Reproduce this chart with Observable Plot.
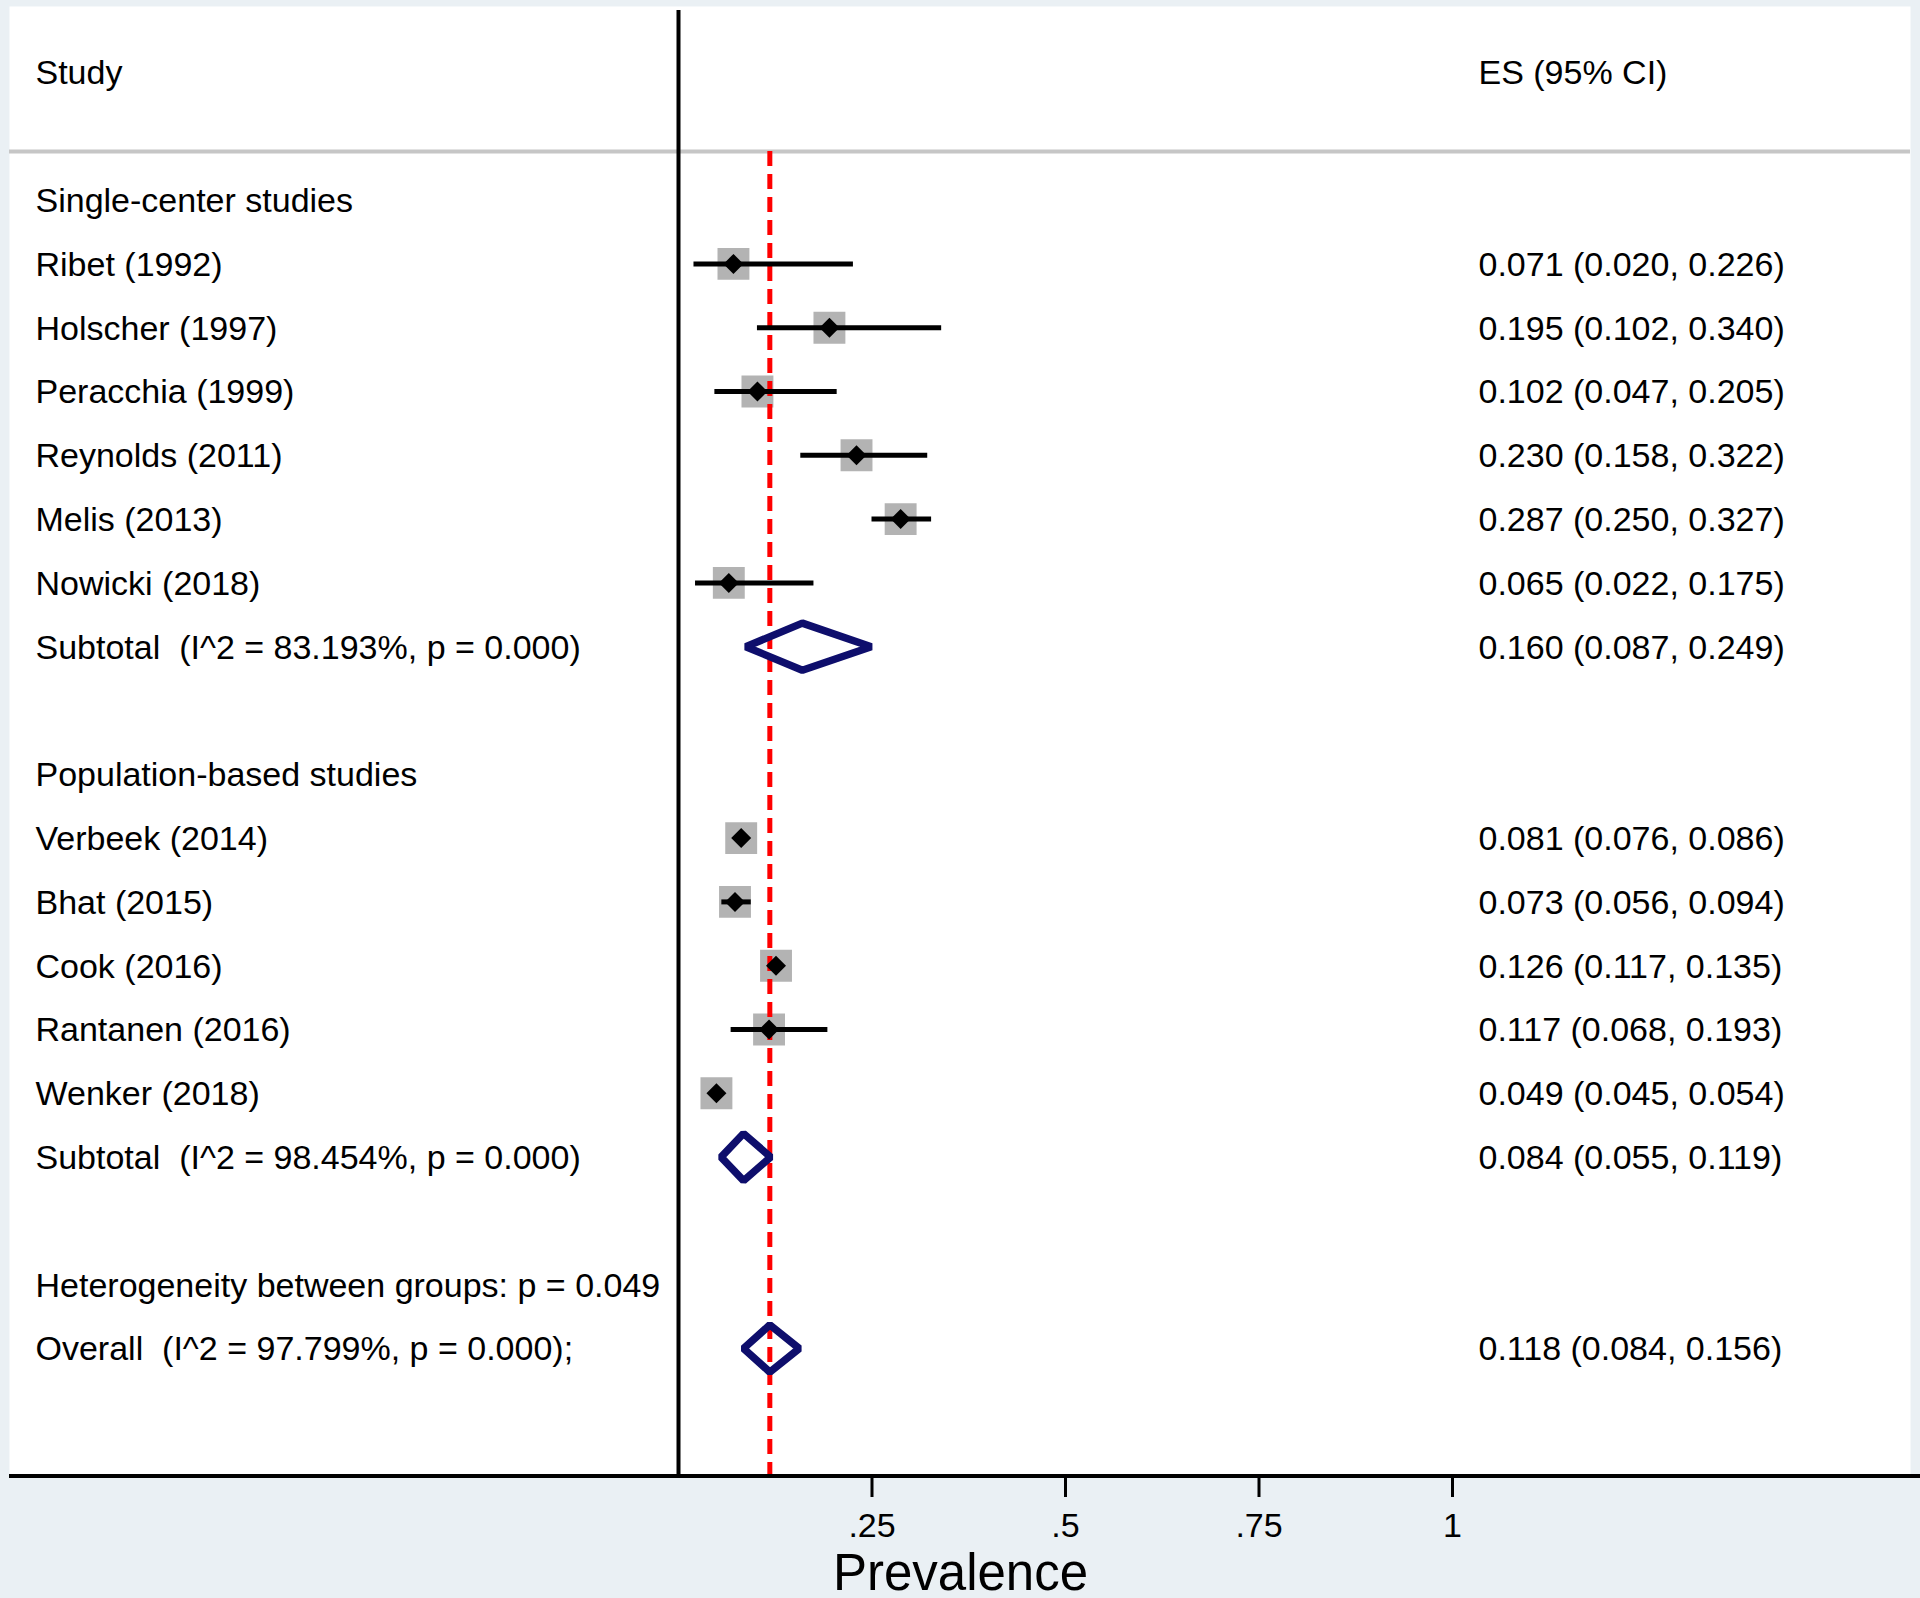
<!DOCTYPE html>
<html><head><meta charset="utf-8">
<script src="https://cdn.jsdelivr.net/npm/d3@7"></script>
<script src="https://cdn.jsdelivr.net/npm/@observablehq/plot@0.6"></script>
<style>body{margin:0;background:#eaf0f4;} svg{display:block;}</style>
</head><body><div id="chart"></div>
<script>
// ---- data ----
const groupNames = ["Single-center studies", "Population-based studies"];
const studyNames = ["Ribet (1992)", "Holscher (1997)", "Peracchia (1999)", "Reynolds (2011)", "Melis (2013)", "Nowicki (2018)",
                    "Verbeek (2014)", "Bhat (2015)", "Cook (2016)", "Rantanen (2016)", "Wenker (2018)"];
const studyGroup = [0, 0, 0, 0, 0, 0, 1, 1, 1, 1, 1];
const studyES = [0.071, 0.195, 0.102, 0.230, 0.287, 0.065, 0.081, 0.073, 0.126, 0.117, 0.049];
const studyLo = [0.020, 0.102, 0.047, 0.158, 0.250, 0.022, 0.076, 0.056, 0.117, 0.068, 0.045];
const studyHi = [0.226, 0.340, 0.205, 0.322, 0.327, 0.175, 0.086, 0.094, 0.135, 0.193, 0.054];
const subtotalES = [0.160, 0.084];
const subtotalLo = [0.087, 0.055];
const subtotalHi = [0.249, 0.119];
const subtotalI2 = ["83.193%", "98.454%"];
const subtotalP = ["0.000", "0.000"];
const heterogeneityP = "0.049";
const overallES = 0.118, overallLo = 0.084, overallHi = 0.156;
const overallI2 = "97.799%", overallP = "0.000";
const xTicks = [0.25, 0.5, 0.75, 1];
const xLabel = "Prevalence";
const headerStudy = "Study";
const headerES = "ES (95% CI)";

// ---- build table ----
const fmt = d3.format(".3f");
const esText = (e, l, h) => `${fmt(e)} (${fmt(l)}, ${fmt(h)})`;
const rows = [];
let r = 0;
groupNames.forEach((g, gi) => {
  rows.push({row: r++, label: g, type: "group"});
  studyNames.forEach((s, i) => {
    if (studyGroup[i] !== gi) return;
    rows.push({row: r++, label: s, type: "study", es: studyES[i], lo: studyLo[i], hi: studyHi[i],
               txt: esText(studyES[i], studyLo[i], studyHi[i])});
  });
  rows.push({row: r++, label: `Subtotal\u00a0 (I^2 = ${subtotalI2[gi]}, p = ${subtotalP[gi]})`, type: "summary",
             es: subtotalES[gi], lo: subtotalLo[gi], hi: subtotalHi[gi],
             txt: esText(subtotalES[gi], subtotalLo[gi], subtotalHi[gi])});
  r++; // blank row
});
rows.push({row: r++, label: `Heterogeneity between groups: p = ${heterogeneityP}`, type: "note"});
rows.push({row: r++, label: `Overall\u00a0 (I^2 = ${overallI2}, p = ${overallP});`, type: "summary",
           es: overallES, lo: overallLo, hi: overallHi, txt: esText(overallES, overallLo, overallHi)});

const studies = rows.filter(d => d.type === "study");
const summaries = rows.filter(d => d.type === "summary");
const halfH = 0.37;
const diamondPts = summaries.flatMap((d, k) => [
  {id: k, x: d.lo, y: d.row}, {id: k, x: d.es, y: d.row - halfH},
  {id: k, x: d.hi, y: d.row}, {id: k, x: d.es, y: d.row + halfH}
]);

const yTop = -3, yBottom = r + 1, headerRow = -2, headerRule = -0.76;
const font = "'Liberation Sans', Arial, Helvetica, sans-serif";
const fs = 34;

const chart = Plot.plot({
  width: 1920, height: 1598,
  marginLeft: 0, marginRight: 0, marginTop: 0, marginBottom: 122,
  style: {fontFamily: font, background: "transparent", color: "black", overflow: "visible"},
  x: {domain: [0, 1], range: [678, 1452]},
  y: {domain: [yTop, yBottom], range: [8.2, 1475.6], axis: null},
  marks: [
    Plot.frame({fill: "white", stroke: null, insetLeft: 9, insetRight: 10, insetTop: 6}),
    Plot.ruleY([headerRule], {stroke: "#c6c6c6", strokeWidth: 4, insetLeft: 9, insetRight: 10}),
    Plot.ruleX([0], {y1: yTop + 0.03, y2: yBottom, stroke: "black", strokeWidth: 4}),
    Plot.dot(studies, {x: "es", y: "row", symbol: "square", r: 18, fill: "#b3b3b3", stroke: null}),
    Plot.ruleX([overallES], {y1: headerRule, y2: yBottom, stroke: "#ff0000", strokeWidth: 5, strokeDasharray: "15,8"}),
    Plot.ruleY(studies, {y: "row", x1: "lo", x2: "hi", stroke: "black", strokeWidth: 5}),
    Plot.dot(studies, {x: "es", y: "row", symbol: "diamond2", r: 9, fill: "black", stroke: null}),
    Plot.line(diamondPts, {x: "x", y: "y", z: "id", curve: "linear-closed", stroke: "#0e0e6c",
      strokeWidth: 7.5, strokeLinejoin: "miter", strokeLinecap: "butt"}),
    Plot.ruleY([yBottom], {stroke: "black", strokeWidth: 4, insetLeft: 9}),
    Plot.axisX({ticks: xTicks, tickSize: 21, tickPadding: 15, fontSize: 34, strokeWidth: 3, label: null,
      tickFormat: d => String(d).replace(/^0/, "")}),
    Plot.text(rows, {y: "row", text: "label", frameAnchor: "left", dx: 35, dy: 1, textAnchor: "start", fontSize: fs, fill: "black"}),
    Plot.text(rows.filter(d => d.txt), {y: "row", text: "txt", frameAnchor: "left", dx: 1478, dy: 1, textAnchor: "start", fontSize: fs, fill: "black"}),
    Plot.text([headerStudy], {y: headerRow, text: d => d, frameAnchor: "left", dx: 35, dy: 1, textAnchor: "start", fontSize: fs, fill: "black"}),
    Plot.text([headerES], {y: headerRow, text: d => d, frameAnchor: "left", dx: 1478, dy: 1, textAnchor: "start", fontSize: fs, fill: "black"}),
    Plot.text([xLabel], {text: d => d, frameAnchor: "bottom", dy: 113, fontSize: 51, fill: "black"})
  ]
});
document.getElementById("chart").appendChild(chart);
</script>
</body></html>
